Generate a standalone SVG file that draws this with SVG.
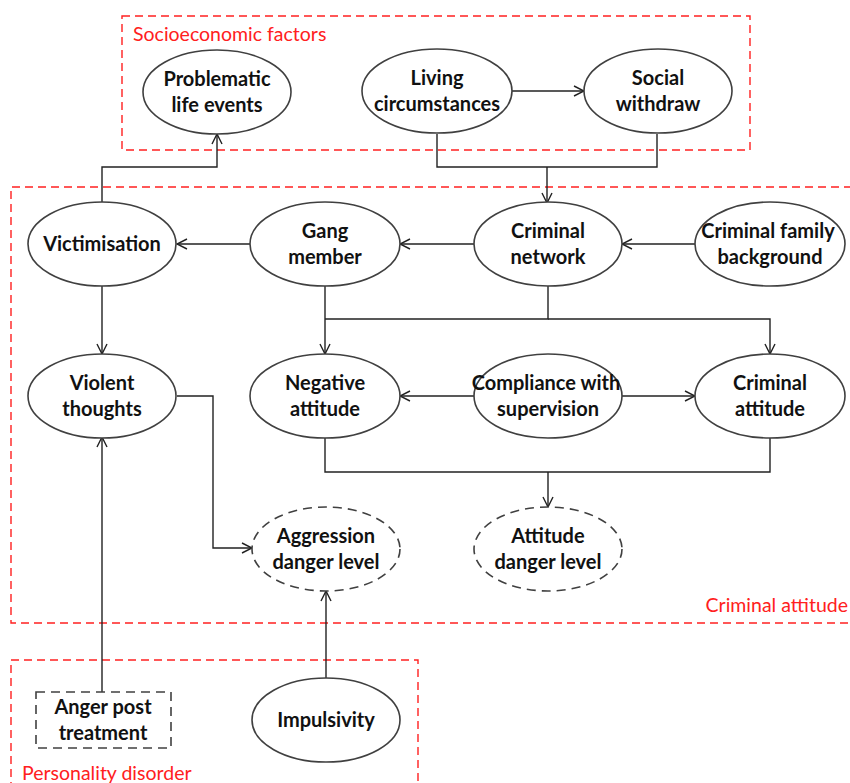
<svg xmlns="http://www.w3.org/2000/svg" width="850" height="783" viewBox="0 0 850 783">
<defs>
<marker id="arr" viewBox="0 0 12 12" refX="11" refY="6" markerWidth="12" markerHeight="12" markerUnits="userSpaceOnUse" orient="auto">
<polyline points="1,1 11,6 1,11" fill="none" stroke="#222" stroke-width="1.4"/>
</marker>
<style>
.grp{fill:none;stroke:#ff2020;stroke-width:1.4;stroke-dasharray:8,5}
.gl{font-family:"Lato","Liberation Sans",sans-serif;font-size:19.5px;fill:#ff2020}
.n{fill:#fff;stroke:#404040;stroke-width:1.6}
.d{fill:#fff;stroke:#404040;stroke-width:1.6;stroke-dasharray:9,6}
.t{font-family:"Lato","Liberation Sans",sans-serif;font-size:20px;font-weight:bold;fill:#111;text-anchor:middle}
.c{fill:none;stroke:#222;stroke-width:1.4}
</style>
</defs>
<rect width="850" height="783" fill="#fff"/>
<g id="groups">
<rect class="grp" x="122" y="16" width="628" height="134"/>
<text class="gl" x="133" y="41">Socioeconomic factors</text>
<path class="grp" d="M852,187 H11 V623 H852"/>
<text class="gl" x="848" y="612" text-anchor="end">Criminal attitude</text>
<path class="grp" d="M11,790 V660 H418 V790"/>
<text class="gl" x="22" y="780">Personality disorder</text>
</g>
<g id="connectors">
<path class="c" d="M102,203 V167 H217 V134" marker-end="url(#arr)"/>
<line class="c" x1="512" y1="91" x2="584" y2="91" marker-end="url(#arr)"/>
<path class="c" d="M437,134 V167 H657 V134"/>
<line class="c" x1="547" y1="167" x2="547" y2="203" marker-end="url(#arr)"/>
<line class="c" x1="251" y1="244" x2="177" y2="244" marker-end="url(#arr)"/>
<line class="c" x1="474" y1="244" x2="400" y2="244" marker-end="url(#arr)"/>
<line class="c" x1="695" y1="244" x2="622" y2="244" marker-end="url(#arr)"/>
<line class="c" x1="102" y1="286" x2="102" y2="354" marker-end="url(#arr)"/>
<line class="c" x1="325" y1="286" x2="325" y2="354" marker-end="url(#arr)"/>
<path class="c" d="M548,286 V319 H325"/>
<path class="c" d="M548,319 H770 V354" marker-end="url(#arr)"/>
<line class="c" x1="474" y1="396" x2="400" y2="396" marker-end="url(#arr)"/>
<line class="c" x1="622" y1="396" x2="695" y2="396" marker-end="url(#arr)"/>
<path class="c" d="M177,396 H213 V548 H252" marker-end="url(#arr)"/>
<path class="c" d="M325,437 V472 H770 V437"/>
<line class="c" x1="548" y1="472" x2="548" y2="507" marker-end="url(#arr)"/>
<line class="c" x1="102" y1="692" x2="102" y2="437" marker-end="url(#arr)"/>
<line class="c" x1="326" y1="678" x2="326" y2="591" marker-end="url(#arr)"/>
</g>
<g id="problematic"><ellipse class="n" cx="217" cy="92" rx="74" ry="42"/><text class="t" x="217" y="86">Problematic</text><text class="t" x="217" y="112">life events</text></g>
<g id="living"><ellipse class="n" cx="437" cy="91" rx="75" ry="42"/><text class="t" x="437" y="85">Living</text><text class="t" x="437" y="111">circumstances</text></g>
<g id="social"><ellipse class="n" cx="658" cy="91" rx="74" ry="42"/><text class="t" x="658" y="85">Social</text><text class="t" x="658" y="111">withdraw</text></g>
<g id="victimisation"><ellipse class="n" cx="102" cy="244" rx="74" ry="42"/><text class="t" x="102" y="251">Victimisation</text></g>
<g id="gang"><ellipse class="n" cx="325" cy="244" rx="75" ry="42"/><text class="t" x="325" y="238">Gang</text><text class="t" x="325" y="264">member</text></g>
<g id="network"><ellipse class="n" cx="548" cy="244" rx="74" ry="42"/><text class="t" x="548" y="238">Criminal</text><text class="t" x="548" y="264">network</text></g>
<g id="family"><ellipse class="n" cx="770" cy="244" rx="75" ry="42"/><text class="t" x="768" y="238">Criminal family</text><text class="t" x="770" y="264">background</text></g>
<g id="violent"><ellipse class="n" cx="102" cy="396" rx="74" ry="42"/><text class="t" x="102" y="390">Violent</text><text class="t" x="102" y="416">thoughts</text></g>
<g id="negative"><ellipse class="n" cx="325" cy="396" rx="75" ry="42"/><text class="t" x="325" y="390">Negative</text><text class="t" x="325" y="416">attitude</text></g>
<g id="compliance"><ellipse class="n" cx="548" cy="396" rx="74" ry="42"/><text class="t" x="546" y="390">Compliance with</text><text class="t" x="548" y="416">supervision</text></g>
<g id="crimattitude"><ellipse class="n" cx="770" cy="396" rx="75" ry="42"/><text class="t" x="770" y="390">Criminal</text><text class="t" x="770" y="416">attitude</text></g>
<g id="aggression"><ellipse class="d" cx="326" cy="549" rx="74" ry="42"/><text class="t" x="326" y="543">Aggression</text><text class="t" x="326" y="569">danger level</text></g>
<g id="attitudedanger"><ellipse class="d" cx="548" cy="549" rx="74" ry="42"/><text class="t" x="548" y="543">Attitude</text><text class="t" x="548" y="569">danger level</text></g>
<g id="anger"><rect class="d" x="36" y="692" width="135" height="56" stroke-dasharray="6,4"/><text class="t" x="103" y="714">Anger post</text><text class="t" x="103" y="740">treatment</text></g>
<g id="impulsivity"><ellipse class="n" cx="326" cy="720" rx="74" ry="42"/><text class="t" x="326" y="727">Impulsivity</text></g>
</svg>
